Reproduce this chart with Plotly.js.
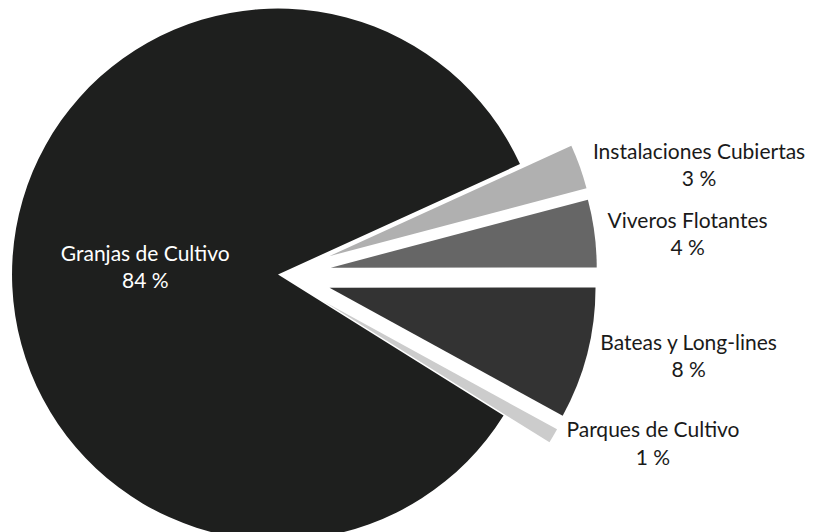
<!DOCTYPE html>
<html>
<head>
<meta charset="utf-8">
<script src="https://cdn.plot.ly/plotly-3.0.1.min.js"></script>
<style>
  html, body { margin: 0; padding: 0; overflow: hidden; background: #ffffff; width: 813px; height: 532px; }
  #chart { position: absolute; left: -322px; top: -46px; width: 1200px; height: 641px; }
</style>
</head>
<body>
<div id="chart"></div>
<script>
// Data (shares in %)
var categories = ["Granjas de Cultivo", "Instalaciones Cubiertas", "Viveros Flotantes", "Bateas y Long-lines", "Parques de Cultivo"];
var shares = [84.3, 2.7, 4.1, 8.0, 0.9];
var sliceColors = ["#1e1f1e", "#b0b0b0", "#666666", "#333333", "#cccccc"];
var pulls = [0, 0.205, 0.2, 0.2, 0.2];
var positions = ["inside", "outside", "outside", "outside", "outside"];

var total = shares.reduce(function (a, b) { return a + b; }, 0);
var pctText = shares.map(function (v) { return Math.round(v / total * 100) + " %"; });

var trace = {
  type: "pie",
  labels: categories,
  values: shares,
  text: pctText,
  texttemplate: "%{label}<br>%{text}",
  textposition: positions,
  sort: false,
  direction: "clockwise",
  rotation: 122,
  pull: pulls,
  marker: { colors: sliceColors, line: { width: 0 } },
  insidetextfont: { family: "Lato, 'Open Sans', sans-serif", size: 21, color: "#ffffff" },
  outsidetextfont: { family: "Lato, 'Open Sans', sans-serif", size: 21, color: "#1a1a1a" },
  insidetextorientation: "horizontal",
  hoverinfo: "label+percent",
  domain: { x: [0, 1], y: [0, 1] }
};

var layout = {
  width: 1200,
  height: 641,
  margin: { l: 0, r: 0, t: 0, b: 0 },
  showlegend: false,
  paper_bgcolor: "#ffffff",
  plot_bgcolor: "#ffffff",
  font: { family: "Lato, 'Open Sans', sans-serif" }
};

Plotly.newPlot("chart", [trace], layout, { displayModeBar: false, staticPlot: true });
</script>
</body>
</html>
